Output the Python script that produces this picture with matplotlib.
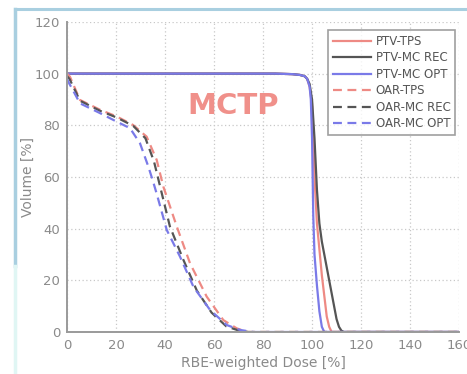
import numpy as np
import matplotlib
matplotlib.use("Agg")
import matplotlib.pyplot as plt
from matplotlib.lines import Line2D

# PTV curves (dose %, volume %)
ptv_tps_dose = [0, 85, 92, 95, 97, 98, 99, 100, 100.5, 101, 102, 103, 104, 105, 106, 107, 108, 160]
ptv_tps_vol  = [100, 100, 99.8, 99.5, 99, 98, 95, 88, 75, 60, 42, 32, 22, 14, 6, 2, 0, 0]

ptv_rec_dose = [0, 85, 92, 95, 97, 98, 99, 100, 101, 102, 103, 104, 105, 106, 107, 108, 109, 110, 111, 112, 113, 160]
ptv_rec_vol  = [100, 100, 99.8, 99.5, 99, 98, 96, 90, 75, 55, 42, 35, 30, 25, 20, 15, 10, 5, 2, 0.5, 0, 0]

ptv_opt_dose = [0, 85, 92, 95, 97, 98, 99, 99.5, 100, 100.5, 101, 102, 103, 104, 105, 160]
ptv_opt_vol  = [100, 100, 99.8, 99.5, 99, 98, 95, 90, 75, 45, 30, 18, 8, 2, 0, 0]

# OAR curves
oar_tps_dose = [0, 1.2, 5.3, 13.5, 20.3, 27, 32.5, 36.6, 39.3, 44.8, 50.2, 57, 63.8, 69.3, 73.5, 80, 160]
oar_tps_vol  = [100, 98.8, 89.8, 86, 83.4, 80.1, 75.6, 66.6, 56.3, 40.8, 26.6, 13.7, 4.6, 1.4, 0, 0, 0]

oar_rec_dose = [0, 1.0, 5.3, 13.5, 20.3, 27, 32, 35.5, 38, 42, 47.5, 53, 59, 65, 70, 74, 160]
oar_rec_vol  = [99, 98, 89.5, 85.6, 83.0, 79.8, 75, 66, 56.3, 40.8, 27.9, 16, 7.5, 2.2, 0.6, 0, 0]

oar_opt_dose = [0, 0.5, 5.3, 13.5, 20.3, 25.7, 29.8, 33.2, 35.2, 36.6, 40.7, 46.1, 51.6, 58.4, 65.2, 70.6, 76, 160]
oar_opt_vol  = [98, 96.9, 88.5, 84.7, 81.4, 78.9, 73, 64, 58, 53.5, 39.5, 29.2, 17.5, 8.5, 2.7, 0.8, 0, 0]

labels = ["PTV-TPS", "PTV-MC REC", "PTV-MC OPT", "OAR-TPS", "OAR-MC REC", "OAR-MC OPT"]

red = "#ee8a84"
black = "#555555"
blue = "#7a7ae8"
grey_txt = "#8a8a8a"

fig = plt.figure(figsize=(4.67, 3.74), dpi=100)
ax = fig.add_axes([0.1435, 0.1123, 0.8395, 0.829])

lw = 1.6
ax.plot(ptv_tps_dose, ptv_tps_vol, color=red, lw=lw, label=labels[0])
ax.plot(ptv_rec_dose, ptv_rec_vol, color=black, lw=lw, label=labels[1])
ax.plot(ptv_opt_dose, ptv_opt_vol, color=blue, lw=lw, label=labels[2])
ax.plot(oar_tps_dose, oar_tps_vol, color=red, lw=lw, ls=(0, (4, 2.5)), label=labels[3])
ax.plot(oar_rec_dose, oar_rec_vol, color=black, lw=lw, ls=(0, (4, 2.5)), label=labels[4])
ax.plot(oar_opt_dose, oar_opt_vol, color=blue, lw=lw, ls=(0, (4, 2.5)), label=labels[5])

ax.set_xlim(0, 160)
ax.set_ylim(0, 120)
ax.set_xticks(np.arange(0, 161, 20))
ax.set_yticks(np.arange(0, 121, 20))
ax.grid(True, ls=(0, (1, 2)), color="#c8c8c8", lw=0.9)
for s in ["top", "right"]:
    ax.spines[s].set_visible(False)
for s in ["left", "bottom"]:
    ax.spines[s].set_color("#9a9a9a")
    ax.spines[s].set_linewidth(1.4)
ax.tick_params(colors=grey_txt, labelsize=9.5, length=0, pad=5)
ax.set_xlabel("RBE-weighted Dose [%]", color=grey_txt, fontsize=10, labelpad=3)
ax.set_ylabel("Volume [%]", color=grey_txt, fontsize=10)
ax.yaxis.set_label_coords(-0.0816, 0.5)

ax.text(67.8, 87.5, "MCTP", color="#f0908a", fontsize=21, fontweight="bold",
        ha="center", va="center")

leg = ax.legend(loc="upper right", bbox_to_anchor=(0.99, 0.974), fontsize=8.5,
                frameon=True, fancybox=False, handlelength=3.2, labelspacing=0.3,
                borderpad=0.4, handletextpad=0.4, borderaxespad=0)
leg.get_frame().set_edgecolor("#888888")
leg.get_frame().set_linewidth(1.2)
for t in leg.get_texts():
    t.set_color("#555555")

# frame lines of the screenshot
fig.add_artist(Line2D([14.5 / 467, 1], [1 - 8.5 / 374, 1 - 8.5 / 374], color="#a9cfe0", lw=2.2))
fig.add_artist(Line2D([14.5 / 467, 14.5 / 467], [1 - 8.5 / 374, 1 - 266 / 374], color="#a9cfe0", lw=2.5))
fig.add_artist(Line2D([14.5 / 467, 14.5 / 467], [1 - 266 / 374, 0], color="#e0f6f4", lw=2.5))

fig.savefig("out.png", dpi=100)
